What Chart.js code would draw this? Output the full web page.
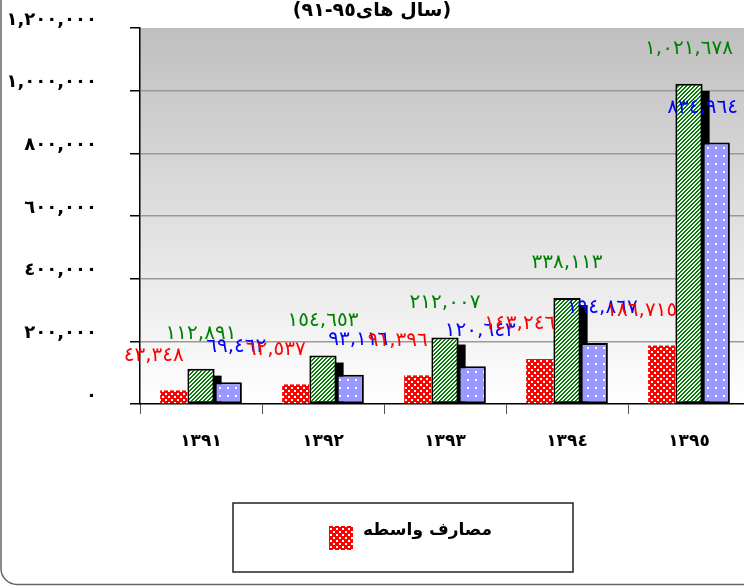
<!DOCTYPE html>
<html>
<head>
<meta charset="utf-8">
<script src="https://cdn.jsdelivr.net/npm/chart.js@4"></script>
<style>
  html, body { margin: 0; padding: 0; background: #fff; overflow: hidden; }
  #wrap { width: 752px; height: 586px; }
</style>
</head>
<body>
<div id="wrap"><canvas id="costChart" width="752" height="586"></canvas></div>
<script>
// داده‌ها
const years = ['١٣٩١', '١٣٩٢', '١٣٩٣', '١٣٩٤', '١٣٩٥'];
const intermediateCosts = [43348, 62537, 91396, 143246, 186715];
const greenSeries = [112891, 154653, 212007, 338113, 1021678];
const blueSeries = [69462, 93116, 120643, 194867, 834964];
const yMax = 1200000;
const yStep = 200000;

const chartTitle = '(سال های٩٥-٩١)';
const legendLabel = 'مصارف واسطه';
const FONT = "'DejaVu Sans', sans-serif";

// ارقام عربی
function toArabicDigits(n) {
    return n.toLocaleString('en-US').replace(/\d/g, d => '٠١٢٣٤٥٦٧٨٩'[d]);
}

// الگوها
function makeTile(w, h, draw) {
    const c = document.createElement('canvas');
    c.width = w; c.height = h;
    draw(c.getContext('2d'));
    return c;
}
const ctx = document.getElementById('costChart').getContext('2d');

const redTile = makeTile(6, 6, g => {
    g.fillStyle = '#ff0000'; g.fillRect(0, 0, 6, 6);
    g.fillStyle = '#ffffff';
    g.fillRect(0, 0, 2, 2); g.fillRect(3, 3, 2, 2);
});
const greenTile = makeTile(4, 4, g => {
    g.fillStyle = '#ffffff'; g.fillRect(0, 0, 4, 4);
    g.fillStyle = '#008000';
    for (let y = 0; y < 4; y++) {
        for (let k = 0; k < 2; k++) g.fillRect((3 - y + k + 4) % 4, y, 1, 1);
    }
});
const blueTile = makeTile(8, 8, g => {
    g.fillStyle = '#9999ff'; g.fillRect(0, 0, 8, 8);
    g.fillStyle = '#ffffff';
    g.fillRect(3, 3, 2, 2);
});
const redPattern = ctx.createPattern(redTile, 'repeat');
const greenPattern = ctx.createPattern(greenTile, 'repeat');
const bluePattern = ctx.createPattern(blueTile, 'repeat');

// پس زمینه، قاب و عنوان
const backgroundPlugin = {
    id: 'backgroundPlugin',
    beforeDraw(chart) {
        const { ctx: c, chartArea: a } = chart;
        c.save();
        c.fillStyle = '#fff';
        c.fillRect(0, 0, chart.width, chart.height);
        const grad = c.createLinearGradient(0, a.top, 0, a.bottom);
        grad.addColorStop(0, '#bfbfbf');
        grad.addColorStop(1, '#ffffff');
        c.fillStyle = grad;
        c.fillRect(a.left, a.top, a.right - a.left, a.bottom - a.top);
        // قاب گرد
        c.strokeStyle = '#666';
        c.lineWidth = 1.5;
        c.beginPath();
        c.roundRect(1, -30, 800, 614.5, 16);
        c.stroke();
        // عنوان
        c.fillStyle = '#000';
        c.font = 'bold 19px ' + FONT;
        c.textAlign = 'center';
        c.textBaseline = 'middle';
        c.fillText(chartTitle, 372, 11);
        c.restore();
    }
};

// سایه میله‌های سبز
const shadowPlugin = {
    id: 'shadowPlugin',
    beforeDatasetsDraw(chart) {
        const { ctx: c, chartArea: a } = chart;
        const meta = chart.getDatasetMeta(1);
        c.save();
        c.beginPath();
        c.rect(a.left, a.top, a.right - a.left, a.bottom - a.top);
        c.clip();
        c.fillStyle = '#000';
        meta.data.forEach(bar => {
            const left = bar.x - bar.width / 2 + 7;
            c.fillRect(left, bar.y + 7, bar.width, bar.base - bar.y - 7);
        });
        c.restore();
    }
};

// برچسب مقادیر
const valueLabelPlugin = {
    id: 'valueLabelPlugin',
    afterDatasetsDraw(chart) {
        const c = chart.ctx;
        const styles = [
            { index: 1, color: '#008000', dx: 0 },
            { index: 2, color: '#0000ff', dx: 8 },
            { index: 0, color: '#ff0000', dx: -20 }
        ];
        c.save();
        c.font = '20px ' + FONT;
        c.textAlign = 'center';
        c.textBaseline = 'middle';
        styles.forEach(s => {
            const meta = chart.getDatasetMeta(s.index);
            const values = chart.data.datasets[s.index].data;
            c.fillStyle = s.color;
            meta.data.forEach((bar, i) => {
                const text = toArabicDigits(values[i]);
                const half = c.measureText(text).width / 2;
                const x = Math.min(bar.x + s.dx, 738 - half);
                c.fillText(text, x, bar.y - 35);
            });
        });
        c.restore();
    }
};

// راهنما
const legendBoxPlugin = {
    id: 'legendBoxPlugin',
    afterDraw(chart) {
        const c = chart.ctx;
        c.save();
        c.fillStyle = '#fff';
        c.fillRect(233, 503, 340, 69);
        c.strokeStyle = '#222';
        c.lineWidth = 1.5;
        c.strokeRect(233, 503, 340, 69);
        c.fillStyle = redPattern;
        c.fillRect(329, 526, 24, 24);
        c.fillStyle = '#000';
        c.font = 'bold 17px ' + FONT;
        c.textAlign = 'left';
        c.textBaseline = 'middle';
        c.fillText(chart.data.datasets[0].label, 363, 531);
        c.restore();
    }
};

new Chart(ctx, {
    type: 'bar',
    data: {
        labels: years,
        datasets: [
            { label: legendLabel, data: intermediateCosts, backgroundColor: redPattern, borderWidth: 0 },
            { label: '', data: greenSeries, backgroundColor: greenPattern, borderColor: '#000', borderWidth: 2, borderSkipped: false },
            { label: '', data: blueSeries, backgroundColor: bluePattern, borderColor: '#000', borderWidth: 2, borderSkipped: false }
        ]
    },
    options: {
        responsive: false,
        animation: false,
        datasets: { bar: { categoryPercentage: 0.67, barPercentage: 1.0 } },
        layout: { padding: { left: 0, right: 2, top: 28, bottom: 0 } },
        plugins: {
            legend: { display: false },
            tooltip: { enabled: false },
            title: { display: false }
        },
        scales: {
            x: {
                grid: { offset: true, drawOnChartArea: false, tickLength: 10, tickColor: '#555' },
                border: { color: '#000', width: 1.5 },
                ticks: { color: '#000', padding: 17, font: { family: FONT, size: 17, weight: 'bold' } },
                afterFit: scale => { scale.height = 182; }
            },
            y: {
                min: 0,
                max: yMax,
                grid: {
                    tickLength: 10,
                    tickColor: '#000',
                    lineWidth: 1.5,
                    color: c => (c.tick && (c.tick.value === yMax || c.tick.value === 0)) ? 'rgba(0,0,0,0)' : '#9a9a9a'
                },
                border: { color: '#000', width: 1.5 },
                ticks: {
                    stepSize: yStep,
                    color: '#000',
                    padding: 33,
                    labelOffset: -8,
                    font: { family: FONT, size: 18, weight: 'bold' },
                    callback: v => toArabicDigits(v)
                },
                afterFit: scale => {
                    scale.width = 140;
                    scale.paddingTop = 0;
                    scale.paddingBottom = 0;
                }
            }
        }
    },
    plugins: [backgroundPlugin, shadowPlugin, valueLabelPlugin, legendBoxPlugin]
});
</script>
</body>
</html>
